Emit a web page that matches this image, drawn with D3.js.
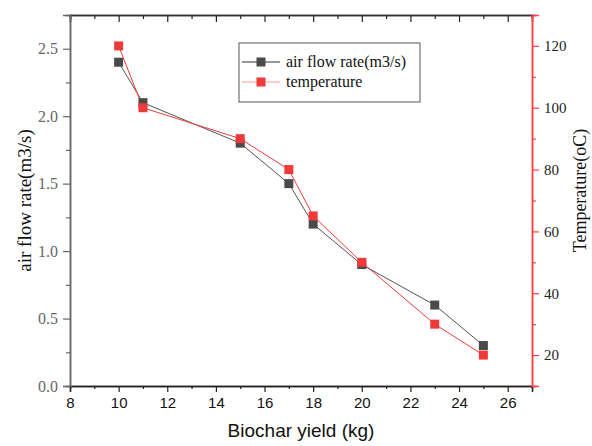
<!DOCTYPE html>
<html>
<head>
<meta charset="utf-8">
<script src="https://cdn.jsdelivr.net/npm/d3@7"></script>
<style>
body { margin: 0; background: #fff; }
</style>
</head>
<body>
<div id="chart"></div>
<script>
const yieldKg = [10, 11, 15, 17, 18, 20, 23, 25]
const airFlow = [2.4, 2.1, 1.8, 1.5, 1.2, 0.9, 0.6, 0.3]
const temperature = [120, 100, 90, 80, 65, 50, 30, 20]
const xTicks = [8, 10, 12, 14, 16, 18, 20, 22, 24, 26]
const leftTicks = [0, 0.5, 1.0, 1.5, 2.0, 2.5]
const rightTicks = [20, 40, 60, 80, 100, 120]

const margin = { top: 15, right: 60, bottom: 60, left: 70 }
const width = 592 - margin.left - margin.right
const height = 446 - margin.top - margin.bottom

const grayCol = '#4a4a4a'
const redCol = '#f03a3a'
const serif = 'Liberation Serif, Times New Roman, serif'
const sans = 'Liberation Sans, Arial, sans-serif'

const svg = d3.select('#chart').append('svg')
    .attr('width', 592)
    .attr('height', 446)
    .append('g')
    .attr('transform', `translate(${margin.left}, ${margin.top})`)

const x = d3.scaleLinear().domain([8, 27]).range([0, width])
const yL = d3.scaleLinear().domain([0, 2.75]).range([height, 0])
const yR = d3.scaleLinear().domain([10, 130]).range([height, 0])

// top axis, ticks pointing in
const topAx = svg.append('g')
    .call(d3.axisTop(x).tickValues(xTicks).tickSize(-7).tickFormat(''))
topAx.append('g')
    .call(d3.axisTop(x).tickValues(d3.range(9, 27, 2)).tickSize(-4).tickFormat(''))
topAx.selectAll('path.domain').attr('stroke', '#333').attr('stroke-width', 1.5)
topAx.selectAll('line').attr('stroke', '#222').attr('stroke-width', 1.2)

// bottom axis
const botAx = svg.append('g')
    .attr('transform', `translate(0, ${height})`)
    .call(d3.axisBottom(x).tickValues(xTicks).tickSize(6).tickPadding(5).tickFormat(d3.format('d')))
botAx.append('g')
    .call(d3.axisBottom(x).tickValues(d3.range(9, 27, 2)).tickSize(3).tickFormat(''))
botAx.selectAll('path.domain').attr('stroke', '#222').attr('stroke-width', 1.5)
botAx.selectAll('line').attr('stroke', '#222').attr('stroke-width', 1.2)
botAx.selectAll('text')
    .attr('font-family', sans)
    .attr('font-size', 15)
    .attr('fill', '#111')

// left axis
const leftAx = svg.append('g')
    .call(d3.axisLeft(yL).tickValues(leftTicks).tickSize(7).tickPadding(5).tickFormat(d3.format('.1f')))
leftAx.append('g')
    .call(d3.axisLeft(yL).tickValues(d3.range(0.25, 2.75, 0.5)).tickSize(4).tickFormat(''))
leftAx.selectAll('path.domain').attr('stroke', '#666').attr('stroke-width', 1.5)
leftAx.selectAll('line').attr('stroke', '#666').attr('stroke-width', 1.2)
leftAx.selectAll('text')
    .attr('font-family', serif)
    .attr('font-size', 16)
    .attr('fill', '#666')

// right axis
const rightAx = svg.append('g')
    .attr('transform', `translate(${width}, 0)`)
    .call(d3.axisRight(yR).tickValues(rightTicks).tickSize(7).tickPadding(5))
rightAx.append('g')
    .call(d3.axisRight(yR).tickValues(d3.range(10, 131, 20)).tickSize(4).tickFormat(''))
rightAx.selectAll('path.domain').attr('stroke', '#ff4040').attr('stroke-width', 1.5)
rightAx.selectAll('line').attr('stroke', '#ff4040').attr('stroke-width', 1.2)
rightAx.selectAll('text')
    .attr('font-family', serif)
    .attr('font-size', 15)
    .attr('fill', '#222')

// axis titles
svg.append('text')
    .attr('x', width / 2)
    .attr('y', height + 51)
    .attr('text-anchor', 'middle')
    .attr('font-family', sans)
    .attr('font-size', 19)
    .attr('fill', '#111')
    .text('Biochar yield (kg)')

svg.append('text')
    .attr('transform', `translate(-39, ${height / 2}) rotate(-90)`)
    .attr('text-anchor', 'middle')
    .attr('font-family', serif)
    .attr('font-size', 19)
    .attr('fill', '#111')
    .text('air flow rate(m3/s)')

svg.append('text')
    .attr('transform', `translate(${width + 54}, ${height / 2 - 10}) rotate(-90)`)
    .attr('text-anchor', 'middle')
    .attr('font-family', serif)
    .attr('font-size', 18)
    .attr('fill', '#111')
    .text('Temperature(oC)')

// series
const lineAir = d3.line().x((d, i) => x(yieldKg[i])).y(d => yL(d))
const lineTemp = d3.line().x((d, i) => x(yieldKg[i])).y(d => yR(d))

svg.append('path').datum(airFlow)
    .attr('d', lineAir)
    .attr('fill', 'none')
    .attr('stroke', '#555')
    .attr('stroke-width', 1)

svg.append('path').datum(temperature)
    .attr('d', lineTemp)
    .attr('fill', 'none')
    .attr('stroke', redCol)
    .attr('stroke-width', 1)

const sq = 9
svg.selectAll('rect.air').data(airFlow)
    .enter()
        .append('rect')
            .attr('class', 'air')
            .attr('x', (d, i) => x(yieldKg[i]) - sq / 2)
            .attr('y', d => yL(d) - sq / 2)
            .attr('width', sq)
            .attr('height', sq)
            .attr('fill', grayCol)

svg.selectAll('rect.temp').data(temperature)
    .enter()
        .append('rect')
            .attr('class', 'temp')
            .attr('x', (d, i) => x(yieldKg[i]) - sq / 2)
            .attr('y', d => yR(d) - sq / 2)
            .attr('width', sq)
            .attr('height', sq)
            .attr('fill', redCol)

// legend
const legend = svg.append('g').attr('transform', `translate(${239 - margin.left}, ${43 - margin.top})`)
legend.append('rect')
    .attr('width', 181)
    .attr('height', 59)
    .attr('fill', '#fff')
    .attr('stroke', '#555')
    .attr('stroke-width', 1)

const legendItems = [
    { label: 'air flow rate(m3/s)', line: '#333', fill: grayCol },
    { label: 'temperature', line: '#f59a9a', fill: redCol }
]
legendItems.forEach((item, i) => {
    const gy = 19 + i * 20
    legend.append('line')
        .attr('x1', 3).attr('x2', 41)
        .attr('y1', gy).attr('y2', gy)
        .attr('stroke', item.line)
        .attr('stroke-width', 1)
    legend.append('rect')
        .attr('x', 22 - sq / 2).attr('y', gy - sq / 2)
        .attr('width', sq).attr('height', sq)
        .attr('fill', item.fill)
    legend.append('text')
        .attr('x', 47)
        .attr('y', gy + 5)
        .attr('font-family', serif)
        .attr('font-size', 16)
        .attr('fill', '#111')
        .text(item.label)
})
</script>
</body>
</html>
